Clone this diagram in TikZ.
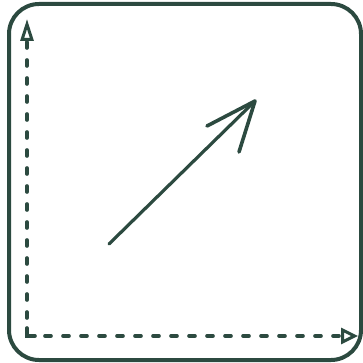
\documentclass[tikz,border=0pt]{standalone}
\usetikzlibrary{arrows.meta}
\definecolor{ink}{RGB}{44,74,64}
\begin{document}
\begin{tikzpicture}[x=1pt,y=-1pt,
  frame/.style={draw=ink,line width=4pt,rounded corners=30pt},
  axis/.style={draw=ink,line width=3.6pt,line cap=round,dash pattern=on 6pt off 12pt},
  vtipstyle/.style={-{Triangle[open,length=22pt,width=13pt,line width=3pt]}},
  htipstyle/.style={-{Triangle[open,length=17pt,width=16pt,line width=3pt]}},
  vec/.style={draw=ink,line width=3.2pt,line cap=round},
  barb/.style={draw=ink,line width=3.6pt,line cap=round,line join=round}]
\useasboundingbox (0,0) rectangle (363,363);
\draw[frame] (9,4) rectangle (361,360);
\coordinate (top) at (27,19);
\coordinate (origin) at (27,336);
\coordinate (right) at (358,336);
\draw[axis,vtipstyle] (origin) -- (top);
\draw[axis,htipstyle] (origin) -- (right);
\draw[draw=ink,line width=3.6pt,line cap=round] (27,328) -- (origin) -- (35,336);
\coordinate (vstart) at (109,244);
\coordinate (vtip) at (255,101);
\coordinate (barbA) at (207,126);
\coordinate (barbB) at (239,152);
\draw[vec] (vstart) -- (vtip);
\draw[barb] (barbA) -- (vtip) -- (barbB);
\end{tikzpicture}
\end{document}
